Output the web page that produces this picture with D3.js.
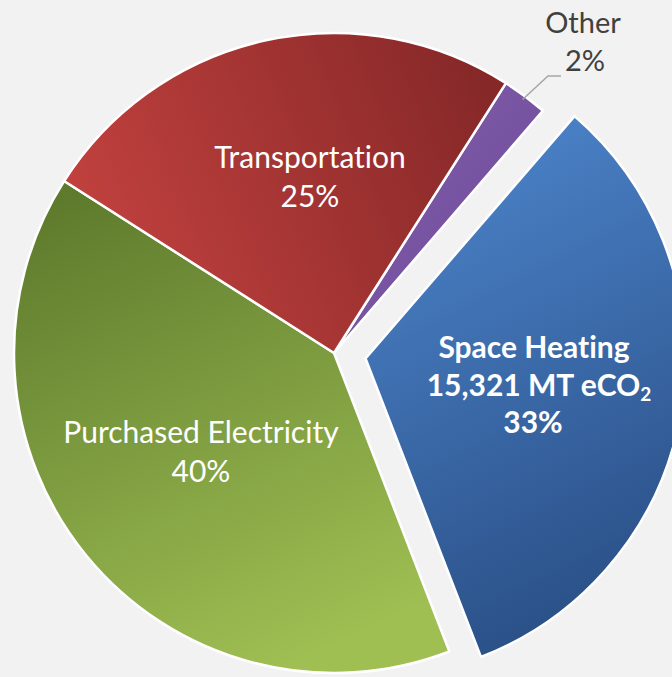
<!DOCTYPE html>
<html>
<head>
<meta charset="utf-8">
<script src="https://cdn.jsdelivr.net/npm/d3@7"></script>
<style>
  html, body { margin: 0; padding: 0; background: #f2f2f2; }
  svg { display: block; }
  text { font-variant-ligatures: none; }
</style>
</head>
<body>
<div id="chart"></div>
<script>
// ------------------------------
// Data
// ------------------------------
const categories = ["Other", "Space Heating", "Purchased Electricity", "Transportation"];
const shares = [2.3, 32.8, 39.9, 25.0];          // share of total emissions, %
const pctLabels = ["2%", "33%", "40%", "25%"];
const spaceHeatingMT = "15,321";

// ------------------------------
// Layout
// ------------------------------
const width = 672;
const height = 677;
const cx = 334;
const cy = 353;
const radius = 320;
const explode = 32;              // offset of the Space Heating slice
const startDeg = 32.5;

const gradients = {
  "Other": ["#8461ad", "#6b4796", 0, 0, 1, 1],
  "Space Heating": ["#4d86cd", "#2a4f86", 0.2, 0, 0.5, 1],
  "Purchased Electricity": ["#5e7b2d", "#9fbf53", 0.2, 0, 0.6, 1],
  "Transportation": ["#c3423f", "#862828", 0, 0.6, 1, 0.3]
};

const svg = d3.select("#chart").append("svg")
  .attr("width", width)
  .attr("height", height);

svg.append("rect").attr("width", width).attr("height", height).attr("fill", "#f2f2f2");

const defs = svg.append("defs");
categories.forEach((c, i) => {
  const [c0, c1, x1, y1, x2, y2] = gradients[c];
  const g = defs.append("linearGradient")
    .attr("id", "grad" + i)
    .attr("x1", x1).attr("y1", y1).attr("x2", x2).attr("y2", y2);
  g.append("stop").attr("offset", "0%").attr("stop-color", c0);
  g.append("stop").attr("offset", "100%").attr("stop-color", c1);
});

const pieData = categories.map((c, i) => ({ name: c, value: shares[i], pct: pctLabels[i], i }));

const pie = d3.pie()
  .sort(null)
  .value((d) => d.value)
  .startAngle(startDeg * Math.PI / 180)
  .endAngle((startDeg + 360) * Math.PI / 180);

const arcs = pie(pieData);
const arc = d3.arc().innerRadius(0).outerRadius(radius);

function offsetOf(d) {
  if (d.data.name !== "Space Heating") return [0, 0];
  const mid = (d.startAngle + d.endAngle) / 2;
  return [Math.sin(mid) * explode, -Math.cos(mid) * explode];
}

const g = svg.append("g").attr("transform", `translate(${cx},${cy})`);

g.selectAll("path")
  .data(arcs)
  .join("path")
  .attr("transform", (d) => `translate(${offsetOf(d)})`)
  .attr("d", arc)
  .attr("fill", (d) => `url(#grad${d.data.i})`)
  .attr("stroke", "#ffffff")
  .attr("stroke-width", 2.5)
  .attr("stroke-linejoin", "round");

// ------------------------------
// Labels
// ------------------------------
const font = "Lato, 'Open Sans', sans-serif";
const labelPos = {
  "Transportation": [310, 168, 207],
  "Purchased Electricity": [201, 443, 482],
  "Other": [583, 33, 71]
};

["Transportation", "Purchased Electricity"].forEach((name) => {
  const d = pieData.find((p) => p.name === name);
  const [x, y1, y2] = labelPos[name];
  const t = svg.append("text")
    .attr("text-anchor", "middle")
    .attr("fill", "#ffffff")
    .attr("font-family", font)
    .attr("font-size", 30);
  t.append("tspan").attr("x", x).attr("y", y1).text(d.name);
  t.append("tspan").attr("x", x).attr("y", y2).text(d.pct);
});

// Space Heating (bold, three lines)
const sh = pieData.find((p) => p.name === "Space Heating");
const shText = svg.append("text")
  .attr("text-anchor", "middle")
  .attr("fill", "#ffffff")
  .attr("font-family", font)
  .attr("font-weight", "bold")
  .attr("font-size", 30);
shText.append("tspan").attr("x", 534).attr("y", 358).text(sh.name);
shText.append("tspan").attr("x", 539).attr("y", 396).text(`${spaceHeatingMT} MT eCO`);
shText.append("tspan").attr("font-size", 19).attr("dy", 5).text("2");
shText.append("tspan").attr("x", 533).attr("y", 433).text(sh.pct);

// Other (outside, with leader line)
const other = pieData.find((p) => p.name === "Other");
const [ox, oy1, oy2] = labelPos["Other"];
const otherText = svg.append("text")
  .attr("text-anchor", "middle")
  .attr("fill", "#404040")
  .attr("font-family", font)
  .attr("font-size", 29);
otherText.append("tspan").attr("x", ox).attr("y", oy1).text(other.name);
otherText.append("tspan").attr("x", ox + 2).attr("y", oy2).text(other.pct);

const oArc = arcs.find((d) => d.data.name === "Other");
const oMid = (oArc.startAngle + oArc.endAngle) / 2;
const p0 = [cx + Math.sin(oMid) * (radius - 4), cy - Math.cos(oMid) * (radius - 4)];
svg.append("polyline")
  .attr("points", [p0, [548, 76], [561, 76]].map((p) => p.join(",")).join(" "))
  .attr("fill", "none")
  .attr("stroke", "#a6a6a6")
  .attr("stroke-width", 1.5);
</script>
</body>
</html>
